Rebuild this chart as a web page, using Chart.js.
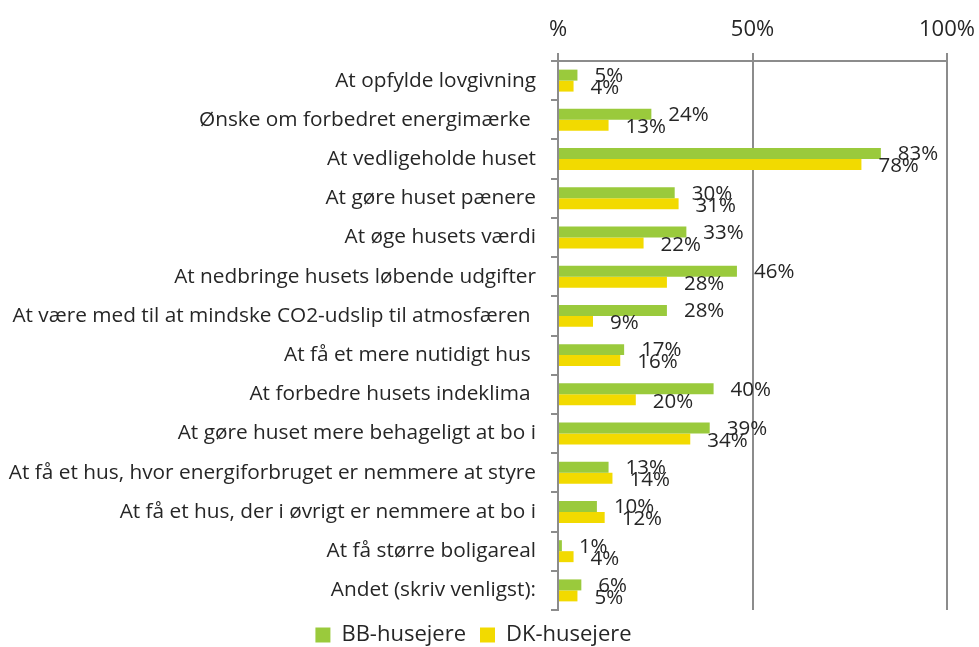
<!DOCTYPE html>
<html><head><meta charset="utf-8">
<script src="https://cdn.jsdelivr.net/npm/chart.js@4/dist/chart.umd.min.js"></script>
<style>html,body{margin:0;padding:0;background:#fff}#wrap{width:979px;height:647px;position:relative}</style>
</head><body><div id="wrap"><canvas id="c" width="979" height="647"></canvas></div>
<script>
const categories = [
  'At opfylde lovgivning',
  'Ønske om forbedret energimærke ',
  'At vedligeholde huset',
  'At gøre huset pænere',
  'At øge husets værdi',
  'At nedbringe husets løbende udgifter',
  'At være med til at mindske CO2-udslip til atmosfæren ',
  'At få et mere nutidigt hus ',
  'At forbedre husets indeklima ',
  'At gøre huset mere behageligt at bo i',
  'At få et hus, hvor energiforbruget er nemmere at styre',
  'At få et hus, der i øvrigt er nemmere at bo i',
  'At få større boligareal',
  'Andet (skriv venligst):'
];
const seriesNames = ['BB-husejere', 'DK-husejere'];
const bbValues = [5, 24, 83, 30, 33, 46, 28, 17, 40, 39, 13, 10, 1, 6];
const dkValues = [4, 13, 78, 31, 22, 28, 9, 16, 20, 34, 14, 12, 4, 5];
const xTickValues = [0, 50, 100];
const xTickLabels = ['%', '50%', '100%'];

const FONT = '"Open Sans"';
const GREEN = '#9ACA3C';
const YELLOW = '#F2DA00';
const AXIS = '#8C8C8C';
const TEXT = '#262626';

const valueLabels = {
  id: 'valueLabels',
  afterDatasetsDraw(chart) {
    const ctx = chart.ctx;
    ctx.save();
    ctx.font = '20.5px ' + FONT;
    ctx.fillStyle = TEXT;
    ctx.textAlign = 'left';
    ctx.textBaseline = 'middle';
    chart.data.datasets.forEach((ds, i) => {
      const meta = chart.getDatasetMeta(i);
      meta.data.forEach((bar, j) => {
        ctx.fillText(ds.data[j] + '%', bar.x + 17, bar.y + (i === 0 ? 1 : 2));
      });
    });
    ctx.restore();
  }
};

new Chart(document.getElementById('c'), {
  type: 'bar',
  data: {
    labels: categories,
    datasets: [
      { label: seriesNames[0], data: bbValues, backgroundColor: GREEN, borderWidth: 0 },
      { label: seriesNames[1], data: dkValues, backgroundColor: YELLOW, borderWidth: 0 }
    ]
  },
  options: {
    indexAxis: 'y',
    responsive: false,
    animation: false,
    devicePixelRatio: 1,
    layout: { padding: { left: 0, right: 32, top: 0, bottom: -9 } },
    datasets: { bar: { categoryPercentage: 0.56, barPercentage: 1 } },
    scales: {
      x: {
        position: 'top',
        min: 0, max: 100,
        afterBuildTicks(scale) { scale.ticks = xTickValues.map(v => ({ value: v })); },
        afterFit(scale) { scale.height = 61; scale.paddingRight = 20; scale.paddingLeft = 10; },
        ticks: {
          callback: (v) => xTickLabels[xTickValues.indexOf(v)],
          color: TEXT, padding: 10,
          font: { family: FONT, size: 22 }
        },
        grid: { color: AXIS, lineWidth: 2, tickLength: 8 },
        border: { color: AXIS, width: 2 }
      },
      y: {
        afterFit(scale) { scale.width = 558; },
        ticks: { color: TEXT, padding: 15, font: { family: FONT, size: 20.8 } },
        grid: { drawOnChartArea: false, offset: true, tickLength: 7, color: AXIS, lineWidth: 2 },
        border: { color: AXIS, width: 2 }
      }
    },
    plugins: {
      legend: {
        position: 'bottom',
        labels: { boxWidth: 15, boxHeight: 15, padding: 14, color: TEXT, font: { family: FONT, size: 22 } }
      },
      tooltip: { enabled: false }
    }
  },
  plugins: [valueLabels]
});
</script></body></html>
